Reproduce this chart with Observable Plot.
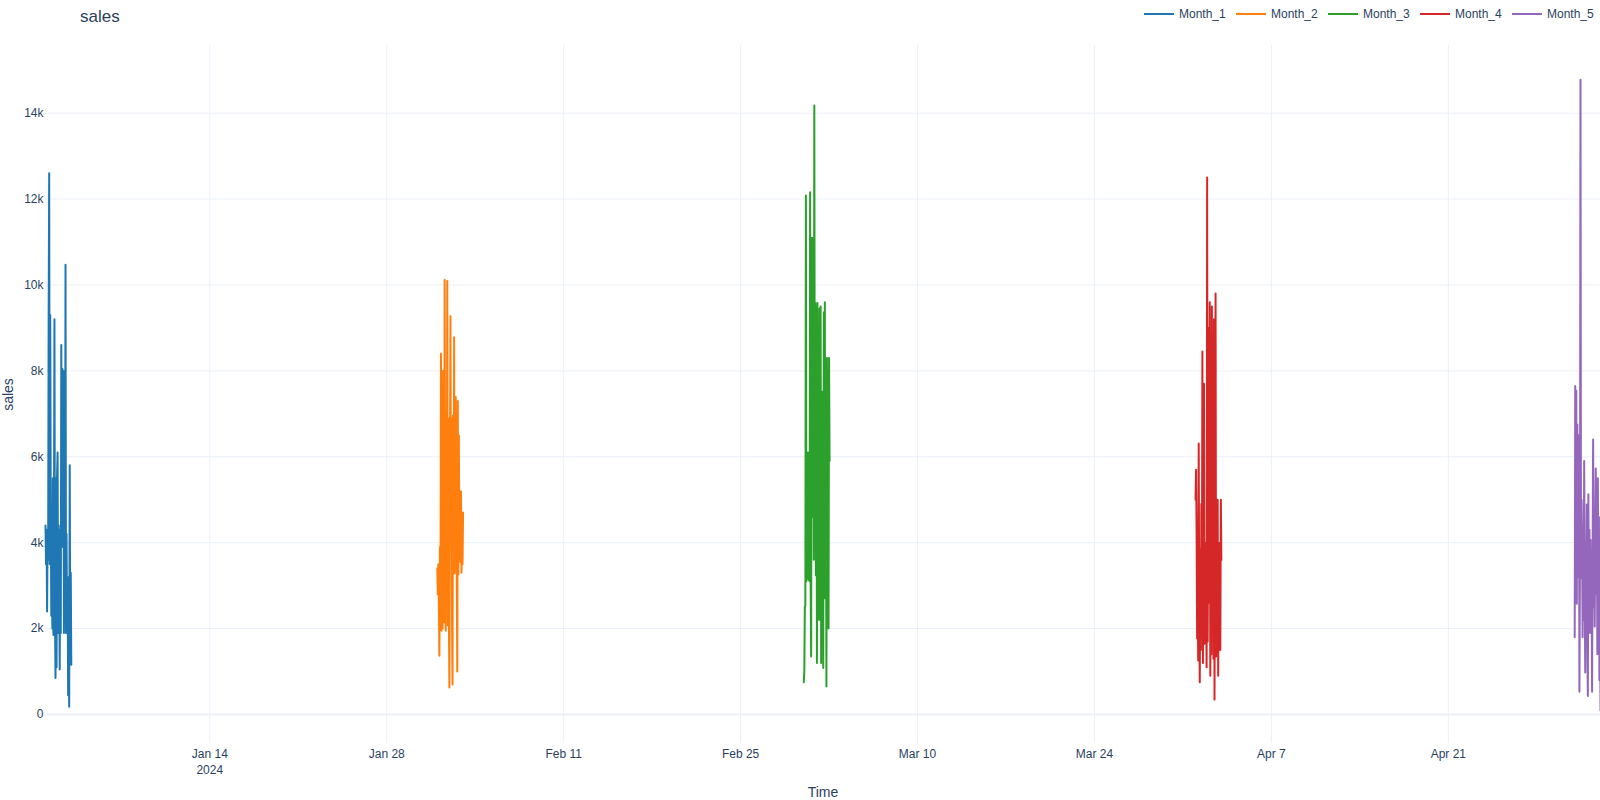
<!DOCTYPE html>
<html>
<head>
<meta charset="utf-8">
<script src="https://cdn.jsdelivr.net/npm/d3@7"></script>
<script src="https://cdn.jsdelivr.net/npm/@observablehq/plot@0.6"></script>
<style>
  body { margin: 0; background: #fff; font-family: "Liberation Sans", Arial, sans-serif; }
  #wrap { position: relative; width: 1600px; height: 800px; }
  #title { position: absolute; left: 80px; top: 7.5px; font-size: 17px; line-height: 17px; color: #2a3f5f; }
  .leg { position: absolute; top: 8.4px; height: 12px; font-size: 12px; line-height: 12px; color: #2a3f5f; white-space: nowrap; }
  .leg .sw { position: absolute; left: 0; top: 5px; width: 30px; height: 2px; }
  .leg .lb { position: absolute; left: 35px; top: 0; }
  svg g[aria-label="x-axis label"] text, svg g[aria-label="y-axis label"] text { font-size: 14px; }
</style>
</head>
<body>
<div id="wrap">
  <div id="chart"></div>
  <div id="title">sales</div>
  <div id="legend"></div>
</div>
<script>
// ---- data ----
const months = ["Month_1", "Month_2", "Month_3", "Month_4", "Month_5"];
const monthStarts = ["2024-01-01T00:00:00Z", "2024-02-01T00:00:00Z", "2024-03-01T00:00:00Z", "2024-04-01T00:00:00Z", "2024-05-01T00:00:00Z"];
const colors = ["#1f77b4", "#ff7f0e", "#2ca02c", "#d62728", "#9467bd"];

const sales_month1 = [4400, 3500, 4300, 2400, 4100, 3600, 9300, 12600, 3500, 9300, 4800, 2300, 3800, 2000, 5500, 1850, 3900, 9200, 2300, 850,
  5500, 1100, 5600, 6100, 1900, 4400, 3000, 1050, 4300, 1900, 8600, 4300, 8050, 3900, 8000, 1900, 4400, 2900, 10470, 1900,
  4200, 1900, 3200, 450, 2000, 180, 5800, 1650, 3300, 1160];
const sales_month2 = [3400, 2800, 3500, 2600, 1370, 3900, 2100, 8400, 1950, 5800, 2000, 8000, 3900, 2150, 10120, 4900, 1950, 7000, 3800, 10090,
  2070, 6900, 2300, 630, 5200, 9270, 3980, 6900, 2200, 700, 6960, 3500, 8780, 3280, 6000, 7390, 4300, 3300, 1000, 7300,
  3260, 6500, 3600, 4700, 3550, 5200, 3300, 4600, 3500, 4700];
const sales_month3 = [750, 1000, 2500, 2540, 12080, 3100, 5600, 3200, 6100, 3140, 4800, 3100, 12160, 3100, 1350, 11100, 4600, 7080, 11100, 3600,
  14180, 5500, 9580, 3240, 9500, 1200, 9580, 4500, 8300, 2200, 9450, 4800, 9500, 1200, 7520, 2900, 6500, 1080, 9360, 4730,
  9600, 2700, 6700, 650, 8300, 3300, 6600, 2000, 8300, 5900];
const sales_month4 = [5000, 5700, 4200, 1770, 3000, 1260, 6310, 2400, 750, 3850, 1500, 4900, 2600, 8450, 1200, 5200, 7700, 1650, 4000, 2200,
  3200, 1100, 12500, 1700, 5000, 9000, 2600, 9600, 900, 4900, 1400, 9500, 3400, 6000, 1300, 9200, 350, 5000, 9800, 1350,
  4200, 2000, 5000, 900, 3500, 2100, 4000, 1500, 5000, 3600];
const sales_month5 = [1800, 7650, 2600, 7540, 2580, 6750, 3200, 4840, 6500, 530, 3400, 14780, 3170, 5000, 4200, 1800, 4300, 2200, 5900, 3000,
  980, 4000, 2900, 4890, 1600, 430, 5130, 2400, 4300, 1900, 4060, 2600, 3600, 530, 3800, 6400, 2500, 3900, 2050, 4500,
  5730, 2800, 4900, 1400, 5500, 2500, 4600, 800, 3700, 100];
const series = [sales_month1, sales_month2, sales_month3, sales_month4, sales_month5];

const xTickDates = ["2024-01-14", "2024-01-28", "2024-02-11", "2024-02-25", "2024-03-10", "2024-03-24", "2024-04-07", "2024-04-21"];
const xTickLabels = ["Jan 14\n2024", "Jan 28", "Feb 11", "Feb 25", "Mar 10", "Mar 24", "Apr 7", "Apr 21"];
const yTickValues = [0, 2000, 4000, 6000, 8000, 10000, 12000, 14000];
const yTickLabels = ["0", "2k", "4k", "6k", "8k", "10k", "12k", "14k"];

// ---- build table ----
const rows = [];
series.forEach((vals, k) => {
  const t0 = Date.parse(monthStarts[k]);
  vals.forEach((v, i) => rows.push({ month: months[k], time: new Date(t0 + i * 3600e3), sales: v }));
});
const xTicks = xTickDates.map(d => new Date(d + "T00:00:00Z"));
const xLabelMap = new Map(xTicks.map((d, i) => [+d, xTickLabels[i]]));
const yLabelMap = new Map(yTickValues.map((d, i) => [d, yTickLabels[i]]));

const lastTime = rows.reduce((m, r) => Math.max(m, +r.time), 0);

const chart = Plot.plot({
  width: 1600,
  height: 800,
  marginTop: 45,
  marginBottom: 57,
  marginLeft: 45,
  marginRight: 0,
  style: { fontFamily: "'Liberation Sans', Arial, sans-serif", fontSize: "12px", color: "#2a3f5f", background: "#fff" },
  x: { type: "utc", domain: [new Date(monthStarts[0]), new Date(lastTime)] },
  y: { domain: [-675, 15575] },
  color: { domain: months, range: colors },
  marks: [
    Plot.gridX(xTicks, { stroke: "#EBF0F8", strokeOpacity: 1, strokeWidth: 1 }),
    Plot.gridY(yTickValues.filter(v => v !== 0), { stroke: "#EBF0F8", strokeOpacity: 1, strokeWidth: 1 }),
    Plot.ruleY([0], { stroke: "#EBF0F8", strokeWidth: 2 }),
    Plot.axisX(xTicks, {
      tickSize: 0, tickPadding: 3, lineHeight: 1.35,
      tickFormat: d => xLabelMap.get(+d),
      label: "Time", labelAnchor: "center", labelArrow: "none", labelOffset: 53
    }),
    Plot.axisY(yTickValues, {
      tickSize: 0, tickPadding: 2,
      tickFormat: d => yLabelMap.get(d),
      label: "sales", labelAnchor: "center", labelArrow: "none", labelOffset: 42
    }),
    Plot.line(rows, { x: "time", y: "sales", z: "month", stroke: "month", strokeWidth: 2 })
  ]
});
document.getElementById("chart").appendChild(chart);

// ---- legend ----
const legend = document.getElementById("legend");
months.forEach((m, i) => {
  const item = document.createElement("div");
  item.className = "leg";
  item.style.left = (1144 + i * 92) + "px";
  item.innerHTML = `<span class="sw" style="background:${colors[i]}"></span><span class="lb">${m}</span>`;
  legend.appendChild(item);
});
</script>
</body>
</html>
